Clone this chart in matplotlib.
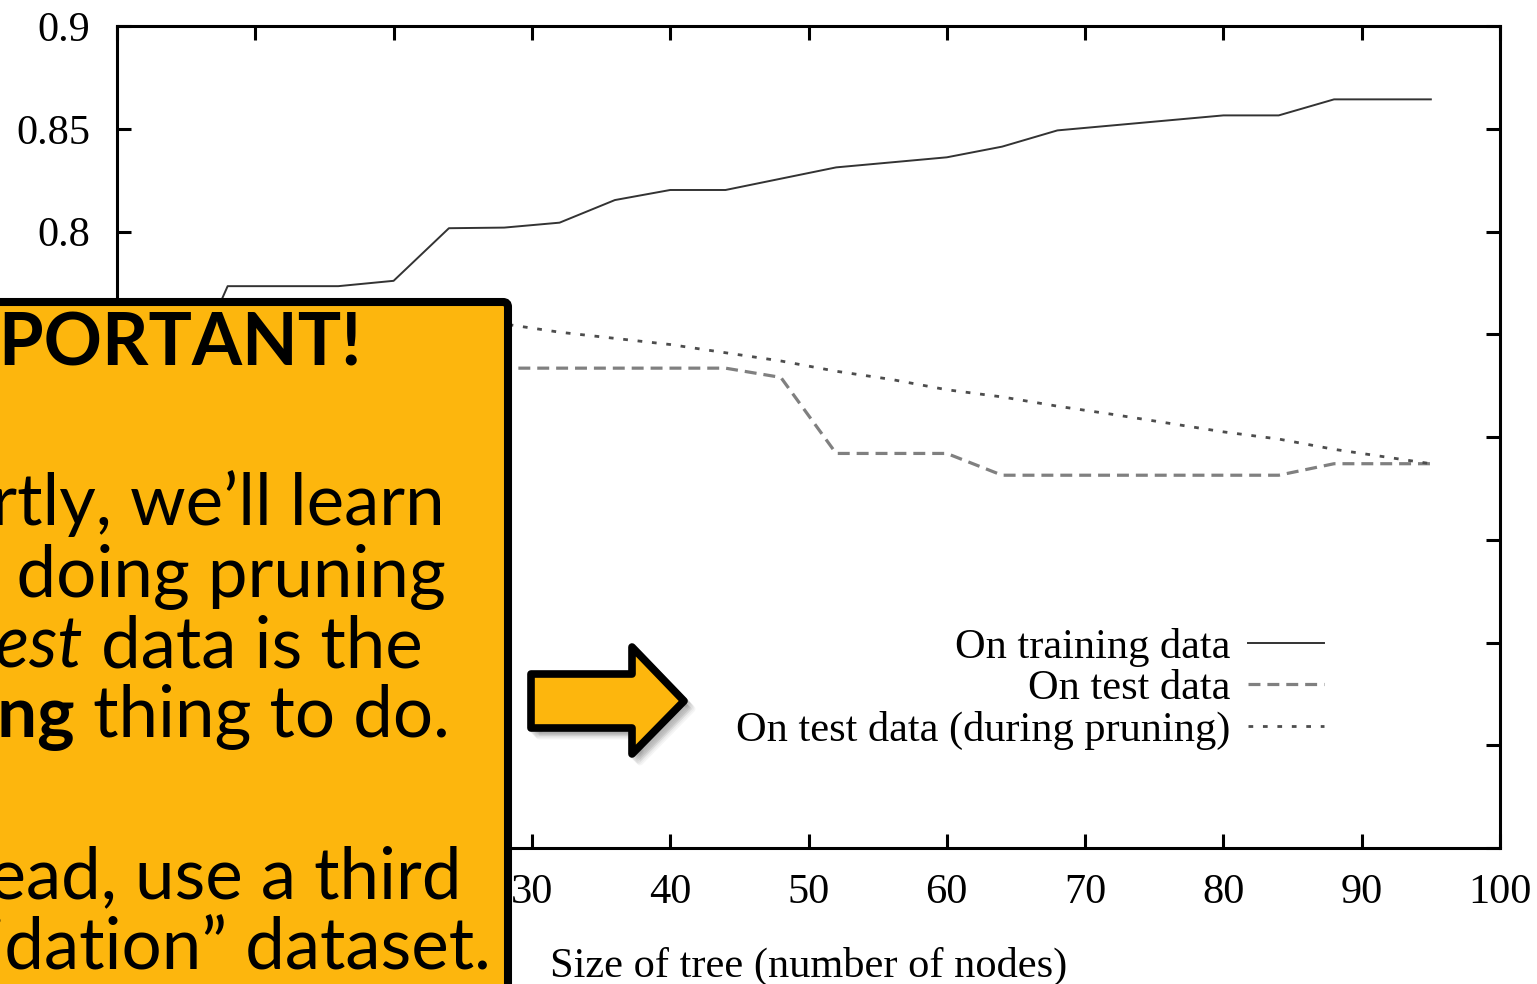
import matplotlib
matplotlib.use("Agg")
import matplotlib.pyplot as plt
from matplotlib.patches import FancyBboxPatch, Polygon, Rectangle
from matplotlib.font_manager import FontProperties

# ---------------- data ----------------
train_x = [1, 3, 6, 8, 16, 20, 24, 28, 32, 36, 40, 44, 52, 60, 64, 68, 80, 84, 88, 95]
train_y = [0.55, 0.64, 0.743, 0.7734, 0.7734, 0.776, 0.8016, 0.8019, 0.8043, 0.8153,
           0.8202, 0.8202, 0.8312, 0.8361, 0.8413, 0.8492, 0.8565, 0.8565, 0.8643, 0.8643]

test_x = [1, 3, 6, 8, 24, 44, 48, 52, 60, 64, 84, 88, 95]
test_y = [0.55, 0.62, 0.70, 0.733, 0.7335, 0.7335, 0.729, 0.692, 0.692, 0.6814,
          0.6814, 0.687, 0.687]

prune_x = [20, 24, 28, 32, 36, 40, 44, 48, 52, 56, 60, 64, 68, 72, 80, 84, 88, 95]
prune_y = [0.760, 0.758, 0.755, 0.751, 0.748, 0.745, 0.741, 0.737, 0.732, 0.728,
           0.723, 0.7195, 0.715, 0.711, 0.7025, 0.699, 0.694, 0.687]

xticks = [0, 10, 20, 30, 40, 50, 60, 70, 80, 90, 100]
yticks = [0.5, 0.55, 0.6, 0.65, 0.7, 0.75, 0.8, 0.85, 0.9]
ytick_labels = ["0.5", "0.55", "0.6", "0.65", "0.7", "0.75", "0.8", "0.85", "0.9"]
series_labels = ["On training data", "On test data", "On test data (during pruning)"]
xlabel = "Size of tree (number of nodes)"
ylabel = "Accuracy"

# callout text: (pieces of (text, weight, style), baseline y in pixels)
callout_title = "IMPORTANT!"
callout_lines = [
    ([("Shortly, we\u2019ll learn", "normal", "normal")], 525),
    ([("that doing pruning", "normal", "normal")], 597),
    ([("on ", "normal", "normal"), ("test", "normal", "italic"),
      (" data is the", "normal", "normal")], 667),
    ([("wrong", "bold", "normal"), (" thing to do.", "normal", "normal")], 737),
    ([("Instead, use a third", "normal", "normal")], 898),
    ([("\u201cvalidation\u201d dataset.", "normal", "normal")], 970),
]

# ---------------- figure ----------------
W, H, DPI = 1537, 984, 100
plt.rcParams['lines.scale_dashes'] = False
fig = plt.figure(figsize=(W / DPI, H / DPI), dpi=DPI)
fig.patch.set_facecolor("white")

serif = "Liberation Serif"
fs = 30.5

ax = fig.add_axes([117 / W, 1 - 848 / H, (1500 - 117) / W, (848 - 26) / H])
ax.plot(train_x, train_y, color="#333333", lw=1.4, label=series_labels[0])
ax.plot(test_x, test_y, color="#808080", lw=2.3, dashes=(8.6, 5.0), label=series_labels[1])
ax.plot(prune_x, prune_y, color="#4d4d4d", lw=2.0, dashes=(3.4, 7.0), label=series_labels[2])

ax.set_xlim(0, 100)
ax.set_ylim(0.5, 0.9)
ax.set_xticks(xticks)
ax.set_xticklabels([str(v) for v in xticks], fontfamily=serif, fontsize=fs)
ax.set_yticks(yticks)
ax.set_yticklabels(ytick_labels, fontfamily=serif, fontsize=fs)
ax.tick_params(direction="in", length=10, width=2.2, top=True, right=True, color="black")
ax.tick_params(axis="y", pad=19)
ax.tick_params(axis="x", pad=18.5)
for sp in ax.spines.values():
    sp.set_linewidth(2.2)

ax.set_xlabel(xlabel, fontfamily=serif, fontsize=fs)
ax.xaxis.set_label_coords(0.5, -0.12)
ax.set_ylabel(ylabel, fontfamily=serif, fontsize=fs)

ax.legend(loc="center right", bbox_to_anchor=(0.873, 0.1935), frameon=False,
          markerfirst=False, prop={"family": serif, "size": fs},
          handlelength=1.8, handletextpad=0.42, labelspacing=0.06,
          borderpad=0, borderaxespad=0)

# ---------------- overlay: callout box and arrow ----------------
ov = fig.add_axes([0, 0, 1, 1], zorder=10)
ov.set_xlim(0, W)
ov.set_ylim(H, 0)
ov.axis("off")
ov.patch.set_visible(False)

orange = "#FDB60D"

# soft shadow to the right of the box
for i in range(9):
    ov.add_patch(Rectangle((-40 + i * 2.0, 304 + i * 1.2), 520, 800,
                           facecolor="black", edgecolor="none", alpha=0.035))

box = FancyBboxPatch((-40, 302), 548, 760, boxstyle="round,pad=0,rounding_size=5",
                     facecolor=orange, edgecolor="black", linewidth=5.8)
ov.add_patch(box)

# arrow
arrow_pts = [(531, 674), (632, 674), (632, 647), (684, 701), (632, 754),
             (632, 728), (531, 728)]
for i in range(6):
    off = 2 + i * 1.2
    ov.add_patch(Polygon([(px + off, py + off) for px, py in arrow_pts], closed=True,
                         facecolor="black", edgecolor="black", linewidth=5, alpha=0.04,
                         joinstyle="round"))
ov.add_patch(Polygon(arrow_pts, closed=True, facecolor=orange, edgecolor="black",
                     linewidth=5.5, joinstyle="round"))

# callout text
box_font = "Lato"
box_fs = 51
renderer = fig.canvas.get_renderer()


def adv(s, weight, style):
    prop = FontProperties(family=box_font, size=box_fs, weight=weight, style=style)
    w1 = renderer.get_text_width_height_descent(s + "l", prop, ismath=False)[0]
    w2 = renderer.get_text_width_height_descent("l", prop, ismath=False)[0]
    return w1 - w2


ov.text(-91, 366, callout_title, fontfamily=box_font, fontsize=52, fontweight="bold",
        va="baseline", ha="left", color="black")

x0 = -127
for parts, yb in callout_lines:
    x = x0
    for txt, weight, style in parts:
        ov.text(x, yb, txt, fontfamily=box_font, fontsize=box_fs, fontweight=weight,
                fontstyle=style, va="baseline", ha="left", color="black")
        x += adv(txt, weight, style)

fig.savefig("out.png", dpi=DPI)
